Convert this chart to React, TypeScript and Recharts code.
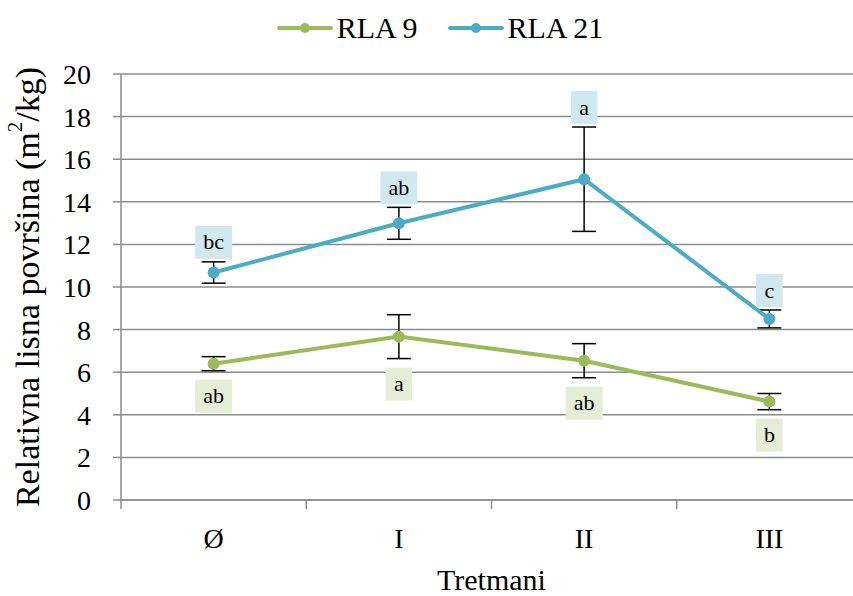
import {
  LineChart,
  Line,
  XAxis,
  YAxis,
  CartesianGrid,
  ErrorBar,
  LabelList,
  Legend,
} from "recharts";

// Treatments on the x axis
const categories = ["Ø", "I", "II", "III"];

// Relative leaf area (m²/kg), means and standard errors
const rla9 = [6.4, 7.67, 6.54, 4.62];
const rla9Err = [0.33, 1.03, 0.8, 0.38];
const rla21 = [10.68, 12.99, 15.06, 8.5];
const rla21Err = [0.5, 0.75, 2.45, 0.42];

// Significance letters
const rla9Sig = ["ab", "a", "ab", "b"];
const rla21Sig = ["bc", "ab", "a", "c"];

const yTicks = [0, 2, 4, 6, 8, 10, 12, 14, 16, 18, 20];

const data = categories.map((name, i) => ({
  name,
  rla9: rla9[i],
  rla9Err: rla9Err[i],
  rla9Sig: rla9Sig[i],
  rla21: rla21[i],
  rla21Err: rla21Err[i],
  rla21Sig: rla21Sig[i],
}));

const GREEN = "#9bbb59";
const BLUE = "#4bacc6";
const GREEN_BOX = "#e6edd6";
const BLUE_BOX = "#d2e8ef";
const GRID = "#8c8c8c";
const FONT = "'Liberation Serif', 'Times New Roman', Tinos, 'DejaVu Serif', serif";

const CHART_W = 870;
const CHART_H = 596;
const PLOT_TOP = 74;
const PLOT_BOTTOM = 500;
const PLOT_LEFT = 121;
const PLOT_RIGHT = 8;
const PLOT_W = CHART_W - PLOT_LEFT - PLOT_RIGHT;
const BAND = PLOT_W / categories.length;

const BOX_H = 33;

function letterBox(fill: string, above: boolean) {
  return (props: any) => {
    const { x, y, value } = props;
    if (x == null || y == null || !value) return null;
    const w = 16 + 10.5 * String(value).length;
    const top = above ? y - 3 - BOX_H : y + 9;
    return (
      <g>
        <rect x={x - w / 2} y={top} width={w} height={BOX_H} fill={fill} />
        <text
          x={x}
          y={top + BOX_H / 2 + 7}
          textAnchor="middle"
          style={{ fontFamily: FONT, fontSize: 22 }}
          fill="#000"
        >
          {value}
        </text>
      </g>
    );
  };
}

function CategoryTick(props: any) {
  const { x, y, payload, index } = props;
  return (
    <g>
      {index === 0 && (
        <line x1={x - BAND / 2} y1={y} x2={x - BAND / 2} y2={y + 9} stroke={GRID} strokeWidth={1.5} />
      )}
      <line x1={x + BAND / 2} y1={y} x2={x + BAND / 2} y2={y + 9} stroke={GRID} strokeWidth={1.5} />
      <text x={x} y={y + 48} textAnchor="middle" style={{ fontFamily: FONT, fontSize: 28 }} fill="#000">
        {payload.value}
      </text>
    </g>
  );
}

function YTitle() {
  const cx = 27;
  const cy = (PLOT_TOP + PLOT_BOTTOM) / 2;
  return (
    <text
      x={cx}
      y={cy}
      transform={`rotate(-90, ${cx}, ${cy})`}
      textAnchor="middle"
      dominantBaseline="central"
      style={{ fontFamily: FONT, fontSize: 34 }}
      fill="#000"
    >
      Relativna lisna površina (m
      <tspan baselineShift="super" fontSize={21}>2</tspan>
      /kg)
    </text>
  );
}

const legendItems = [
  { label: "RLA 9", color: GREEN },
  { label: "RLA 21", color: BLUE },
];

function SeriesLegend() {
  return (
    <div
      style={{
        display: "flex",
        justifyContent: "center",
        alignItems: "center",
        gap: 30,
        height: 40,
        paddingLeft: 10,
        fontFamily: FONT,
        fontSize: 30,
        color: "#000",
      }}
    >
      {legendItems.map((item) => (
        <div key={item.label} style={{ display: "flex", alignItems: "center" }}>
          <svg width={56} height={12}>
            <line x1={2} y1={6} x2={54} y2={6} stroke={item.color} strokeWidth={4} strokeLinecap="round" />
            <circle cx={28} cy={6} r={5} fill={item.color} />
          </svg>
          <span style={{ marginLeft: 4 }}>{item.label}</span>
        </div>
      ))}
    </div>
  );
}

export default function App() {
  return (
    <div
      style={{
        position: "absolute",
        left: 0,
        top: 0,
        width: 853,
        height: 596,
        overflow: "hidden",
        background: "#fff",
      }}
    >
      <LineChart
        width={CHART_W}
        height={CHART_H}
        data={data}
        margin={{ top: PLOT_TOP - 40, right: PLOT_RIGHT, bottom: 0, left: 0 }}
      >
        <CartesianGrid vertical={false} stroke={GRID} strokeWidth={1.5} />
        <XAxis
          dataKey="name"
          height={CHART_H - PLOT_BOTTOM}
          padding={{ left: BAND / 2, right: BAND / 2 }}
          axisLine={{ stroke: GRID, strokeWidth: 1.5 }}
          tickLine={false}
          tickSize={0}
          tickMargin={0}
          tick={<CategoryTick />}
          interval={0}
          label={{
            value: "Tretmani",
            position: "insideBottom",
            offset: 6,
            style: { fontFamily: FONT, fontSize: 30 },
            fill: "#000",
          }}
        />
        <YAxis
          width={PLOT_LEFT}
          domain={[0, 20]}
          ticks={yTicks}
          interval={0}
          axisLine={{ stroke: GRID, strokeWidth: 1.5 }}
          tickLine={{ stroke: GRID, strokeWidth: 1.5 }}
          tickSize={8}
          tickMargin={22}
          tick={{ fontSize: 28, fill: "#000", style: { fontFamily: FONT } }}
        />
        <Legend
          verticalAlign="top"
          align="center"
          content={<SeriesLegend />}
          wrapperStyle={{ top: 8, left: 0, width: CHART_W }}
        />

        {/* invisible carriers for the significance letters */}
        <Line
          dataKey={(d: any) => d.rla21 + d.rla21Err}
          stroke="none"
          dot={false}
          activeDot={false}
          legendType="none"
          isAnimationActive={false}
        >
          <LabelList dataKey="rla21Sig" content={letterBox(BLUE_BOX, true)} />
        </Line>
        <Line
          dataKey={(d: any) => d.rla9 - d.rla9Err}
          stroke="none"
          dot={false}
          activeDot={false}
          legendType="none"
          isAnimationActive={false}
        >
          <LabelList dataKey="rla9Sig" content={letterBox(GREEN_BOX, false)} />
        </Line>

        <Line
          dataKey="rla9"
          name="RLA 9"
          stroke={GREEN}
          strokeWidth={4}
          dot={{ r: 6, fill: GREEN, stroke: GREEN, strokeWidth: 0 }}
          activeDot={false}
          isAnimationActive={false}
        >
          <ErrorBar dataKey="rla9Err" direction="y" width={12} stroke="#000" strokeWidth={1.5} />
        </Line>
        <Line
          dataKey="rla21"
          name="RLA 21"
          stroke={BLUE}
          strokeWidth={4}
          dot={{ r: 6, fill: BLUE, stroke: BLUE, strokeWidth: 0 }}
          activeDot={false}
          isAnimationActive={false}
        >
          <ErrorBar dataKey="rla21Err" direction="y" width={12} stroke="#000" strokeWidth={1.5} />
        </Line>
        <YTitle />
      </LineChart>
    </div>
  );
}
